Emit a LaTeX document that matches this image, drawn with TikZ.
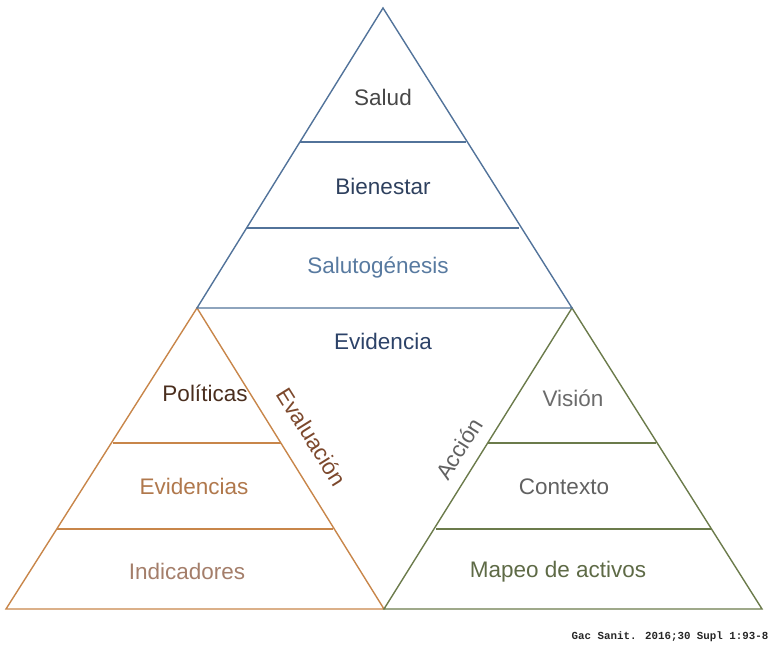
\documentclass[tikz,border=0pt]{standalone}
\usepackage{fontspec}
\setmainfont{Liberation Sans}
\newfontfamily\refmono{Liberation Mono}
\usetikzlibrary{positioning}

\definecolor{topline}{HTML}{52739A}
\definecolor{leftline}{HTML}{C8864A}
\definecolor{rightline}{HTML}{6B7B4B}

\begin{document}
\begin{tikzpicture}[x=1pt,y=-1pt,
  edge/.style={line width=1.4pt,line join=miter},
  label/.style={font=\fontsize{22.5}{27}\selectfont,inner sep=0pt}]
  \useasboundingbox (0,0) rectangle (777,655);

  % three pyramids, top one resting on the other two
  \coordinate (topA) at (383,8);
  \coordinate (topL) at (197,308);
  \coordinate (topR) at (572,308);
  \coordinate (leftL) at (6,609);
  \coordinate (mid) at (384,609);
  \coordinate (rightR) at (762,609);

  \draw[edge,leftline] (topL) -- (mid) -- (leftL) -- cycle;
  \draw[edge,leftline] (113,443) -- (281,443);
  \draw[edge,leftline] (57,529) -- (333,529);

  \draw[edge,rightline] (topR) -- (rightR) -- (mid) -- cycle;
  \draw[edge,rightline] (488,443) -- (656,443);
  \draw[edge,rightline] (436,529) -- (712,529);

  \draw[edge,topline] (topA) -- (topR) -- (topL) -- cycle;
  \draw[edge,topline] (300,142) -- (466,142);
  \draw[edge,topline] (247,228) -- (519,228);

  % labels of the top pyramid
  \node[label,text=black!72] (salud) at (383,97) {Salud};
  \node[label,text={rgb,255:red,46;green,64;blue,94}] (bienestar) at (383,186) {Bienestar};
  \node[label,text={rgb,255:red,88;green,122;blue,160}] (saluto) at (378,268) {Salutogénesis};
  \node[label,text={rgb,255:red,44;green,66;blue,104}] (evidencia) at (383,341) {Evidencia};

  % left pyramid
  \node[label,text={rgb,255:red,74;green,46;blue,30}] (politicas) at (205,393) {Políticas};
  \node[label,text={rgb,255:red,176;green,120;blue,76}] (evidencias) at (194,486) {Evidencias};
  \node[label,text={rgb,255:red,164;green,126;blue,106}] (indicadores) at (187,571) {Indicadores};
  \node[label,text={rgb,255:red,124;green,72;blue,44},rotate=-58] (evaluacion) at (312,437) {Evaluación};

  % right pyramid
  \node[label,text=black!58] (vision) at (573,398) {Visión};
  \node[label,text=black!62] (contexto) at (564,487) {Contexto};
  \node[label,text={rgb,255:red,94;green,106;blue,70}] (mapeo) at (558,572) {Mapeo de activos};
  \node[label,text=black!62,rotate=58] (accion) at (459,449) {Acción};

  \node[font=\refmono\bfseries\fontsize{10.8}{13}\selectfont,inner sep=0pt,text=black!85]
    (fuente) at (670,637) {Gac Sanit. 2016;30 Supl 1:93-8};
\end{tikzpicture}
\end{document}
